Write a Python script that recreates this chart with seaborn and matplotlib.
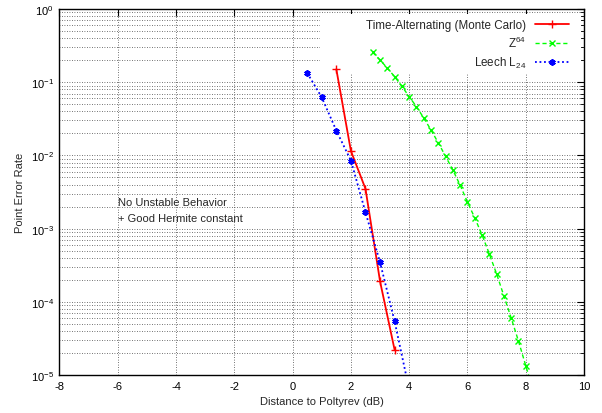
import numpy as np
import pandas as pd
import matplotlib
matplotlib.use("Agg")
import matplotlib.pyplot as plt
import matplotlib.ticker as mticker
from matplotlib.patches import Rectangle
import seaborn as sns

# data
ta_x = [1.5, 2.0, 2.5, 3.0, 3.5]
ta_y = [0.15, 0.0115, 0.0035, 1.9e-4, 2.2e-5]

z64_x = [2.75, 3.0, 3.25, 3.5, 3.75, 4.0, 4.25, 4.5, 4.75, 5.0, 5.25, 5.5,
         5.75, 6.0, 6.25, 6.5, 6.75, 7.0, 7.25, 7.5, 7.75, 8.0, 8.25]
z64_y = [0.256, 0.201, 0.156, 0.119, 0.088, 0.0634, 0.0463, 0.0324, 0.0222,
         0.0148, 0.0097, 0.0063, 0.0039, 0.0023, 0.0014, 8.2e-4, 4.5e-4,
         2.4e-4, 1.2e-4, 6.0e-5, 2.9e-5, 1.34e-5, 6.2e-6]

leech_x = [0.5, 1.0, 1.5, 2.0, 2.5, 3.0, 3.5, 4.0]
leech_y = [0.134, 0.062, 0.0218, 0.0085, 0.00167, 3.46e-4, 5.4e-5, 6.3e-6]

note_lines = ["No Unstable Behavior", "+ Good Hermite constant"]

sns.set_style("white")
plt.rcParams['font.family'] = ['Liberation Sans', 'DejaVu Sans']
plt.rcParams['mathtext.default'] = 'regular'
plt.rcParams['axes.unicode_minus'] = False

fig = plt.figure(figsize=(6.02, 4.14), dpi=100)
ax = fig.add_axes([0.0988, 0.0918, 0.8714, 0.884])

sns.lineplot(x=ta_x, y=ta_y, ax=ax, color="#ff0000", lw=1.3, marker="+",
             markersize=6, markeredgewidth=1.0, markeredgecolor="#ff0000",
             sort=False, estimator=None, label="Time-Alternating (Monte Carlo)")
sns.lineplot(x=z64_x, y=z64_y, ax=ax, color="#00ff00", lw=1.0, marker="x",
             markersize=5, markeredgewidth=1.0, markeredgecolor="#00ff00",
             sort=False, estimator=None, label="Z$^{64}$", linestyle=(0, (3, 2)))
sns.lineplot(x=leech_x, y=leech_y, ax=ax, color="#0000ff", lw=1.3, marker=(6, 2, 0),
             markersize=4.5, markeredgewidth=1.4, markeredgecolor="#0000ff",
             sort=False, estimator=None, label="Leech L$_{24}$", linestyle=(0, (1, 1.5)))

ax.set_yscale("log")
ax.set_xlim(-8, 10)
ax.set_ylim(1e-5, 1)
ax.xaxis.set_major_locator(mticker.MultipleLocator(2))
ax.yaxis.set_major_locator(mticker.LogLocator(base=10, numticks=10))
ax.yaxis.set_minor_locator(mticker.LogLocator(base=10, subs=np.arange(2, 10), numticks=10))
ax.yaxis.set_minor_formatter(mticker.NullFormatter())

ax.grid(True, which="major", color="#444444", lw=0.6, linestyle=(0, (1, 2)))
ax.grid(True, which="minor", axis="y", color="#444444", lw=0.6, linestyle=(0, (1, 2)))
ax.set_axisbelow(True)

# white key area hiding the grid behind the legend (lines stay on top)
ax.add_patch(Rectangle((0.497, 0.822), 0.497, 0.164, transform=ax.transAxes,
                       facecolor="white", edgecolor="none", zorder=1))

ax.tick_params(which="both", direction="in", top=True, right=True,
               labelsize=8, colors="black", pad=4)
ax.tick_params(which="major", length=5, width=0.8)
ax.tick_params(which="minor", length=3, width=0.6)
for s in ax.spines.values():
    s.set_color("black")
    s.set_linewidth(1.0)

ax.set_xlabel("Distance to Poltyrev (dB)", fontsize=8)
ax.set_ylabel("Point Error Rate", fontsize=8)

ax.text(-6.0, 2.3e-3, note_lines[0], fontsize=8, va="center", ha="left")
ax.text(-6.0, 1.4e-3, note_lines[1], fontsize=8, va="center", ha="left")

leg = ax.legend(loc="upper right", bbox_to_anchor=(0.987, 0.996), fontsize=8.4,
                markerfirst=False, frameon=False, borderaxespad=0.3,
                handlelength=2.9, labelspacing=0.38)
for t in leg.get_texts():
    t.set_ha("right")

fig.savefig("out.png", dpi=100)
